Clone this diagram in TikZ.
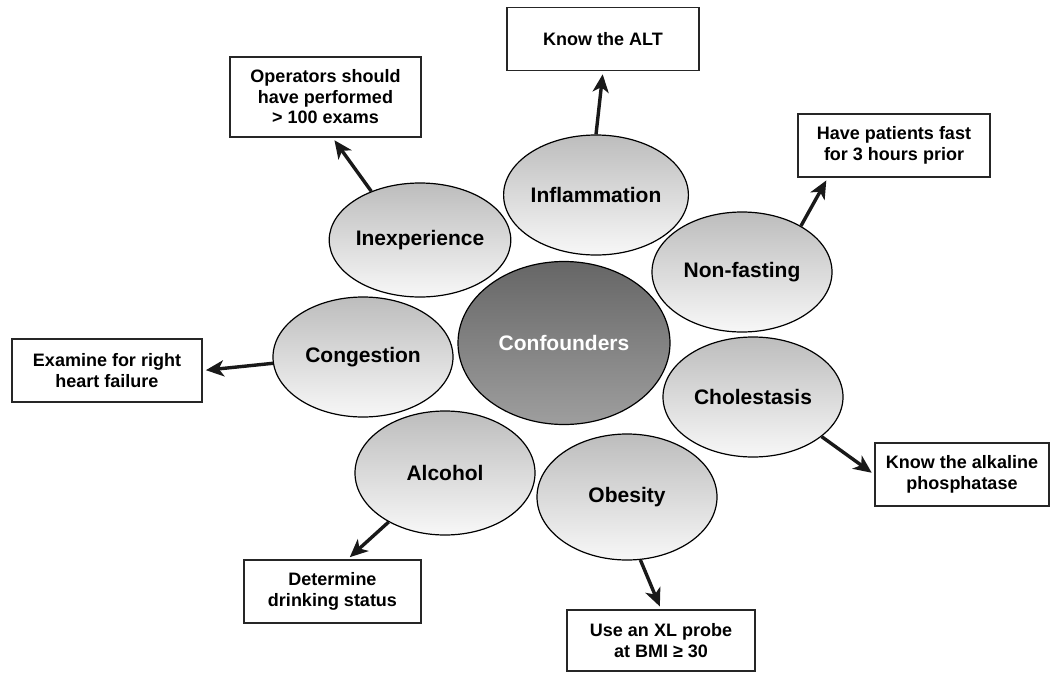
\documentclass[tikz,border=0pt]{standalone}
\usepackage{fontspec}
\setmainfont{Liberation Sans}
\usetikzlibrary{shapes.geometric,arrows.meta}
\tikzset{
	bubble/.style={ellipse, draw=black, line width=1.2pt, top color=black!26, bottom color=black!3, minimum width=180pt, minimum height=120pt, inner sep=0pt, font=\fontsize{21}{24}\selectfont\bfseries},
	hub/.style={ellipse, draw=black, line width=1.2pt, top color=black!60, bottom color=black!38, minimum width=212pt, minimum height=163pt, inner sep=0pt, text=white, font=\fontsize{21}{24}\selectfont\bfseries},
	tipbox/.style={draw=black!85, line width=1.6pt, fill=white, align=center, inner sep=0pt, minimum height=63pt, font=\fontsize{18}{20.5}\selectfont\bfseries},
	arr/.style={line width=3.4pt, black!90, -{Stealth[length=18pt,width=16pt,inset=5pt]}, shorten >=3pt}
}
\begin{document}
\begin{tikzpicture}[x=1pt, y=-1pt]
	\useasboundingbox (0,0) rectangle (1052,672);

	\node (conf) [hub] at (564,343) {Confounders};
	\node (infl) [bubble] at (596,195) {Inflammation};
	\node (nonf) [bubble] at (742,272) {Non-fasting};
	\node (chol) [bubble] at (753,397) {Cholestasis};
	\node (obes) [bubble, minimum height=126pt] at (627,497) {Obesity};
	\node (alco) [bubble, minimum height=124pt] at (445,473) {Alcohol};
	\node (cong) [bubble] at (363,357) {Congestion};
	\node (inex) [bubble, minimum height=114pt] at (420,240) {Inexperience};

	\node (alt) [tipbox, minimum width=192pt] at (603,39) {Know the ALT};
	\node (oper) [tipbox, minimum width=191pt, minimum height=80pt] at (325.5,97) {Operators should\\have performed\\> 100 exams};
	\node (fast) [tipbox, minimum width=192pt] at (894,145.5) {Have patients fast\\for 3 hours prior};
	\node (heart) [tipbox, minimum width=190pt] at (107,370.5) {Examine for right\\heart failure};
	\node (alk) [tipbox, minimum width=174pt] at (962,474.5) {Know the alkaline\\phosphatase};
	\node (drink) [tipbox, minimum width=177pt] at (332.5,591.5) {Determine\\drinking status};
	\node (probe) [tipbox, minimum width=188pt, minimum height=61pt] at (661,640.5) {Use an XL probe\\at BMI ≥ 30};

	\draw [arr] (infl.north) -- (alt.south);
	\draw [arr] (inex.135) -- (oper.-80);
	\draw [arr] (nonf.38) -- (fast.-154);
	\draw [arr] (cong.184) -- (heart.east);
	\draw [arr] (chol.-30) -- (alk.west);
	\draw [arr] (alco.221) -- (drink.65);
	\draw [arr] (obes.-78) -- (probe.north);
\end{tikzpicture}
\end{document}
